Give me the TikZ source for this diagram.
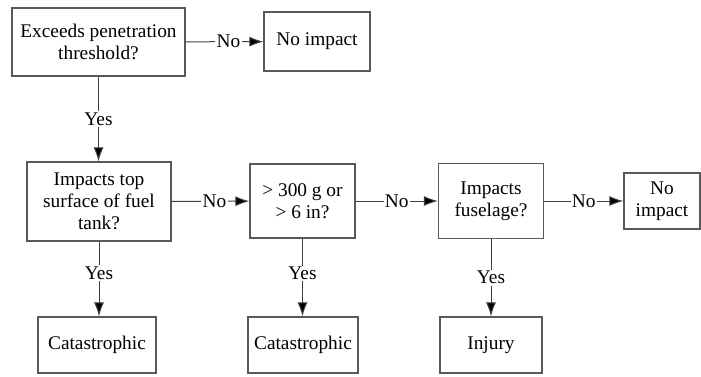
\documentclass[tikz,border=0pt]{standalone}
\usepackage{fontspec}
\setmainfont{Liberation Serif}
\newfontfamily\flowfont{Liberation Serif}
\usetikzlibrary{arrows.meta}

\begin{document}
\begin{tikzpicture}[x=0.75pt,y=-0.75pt,
  box/.style={draw=black!65, line width=0.9pt, align=center, inner sep=0pt,
    font=\flowfont\fontsize{14.5}{16.5}\selectfont},
  lbl/.style={fill=white, inner sep=1pt, font=\flowfont\fontsize{14.5}{16.5}\selectfont},
  >={Latex[length=10.5pt,width=7.5pt]}]
\useasboundingbox (0,0) rectangle (701,376);
% first question
\node[box, minimum width=129.75pt, minimum height=51pt] (pen) at (98.5,42)
  {Exceeds penetration\\threshold?};
\node[box, minimum width=79.5pt, minimum height=44.25pt] (noimpa) at (317,41.5)
  {No impact};
% second row
\node[box, minimum width=108pt, minimum height=59.25pt] (tank) at (99,201.5)
  {Impacts top\\surface of fuel\\tank?};
\node[box, minimum width=78.75pt, minimum height=55.5pt] (mass) at (302.5,201)
  {> 300 g or\\> 6 in?};
\node[box, minimum width=78.75pt, minimum height=56.25pt] (fus) at (491,201)
  {Impacts\\fuselage?};
\node[box, minimum width=57pt, minimum height=42pt] (noimpb) at (662,201)
  {No\\impact};
% outcomes
\node[box, minimum width=88.5pt, minimum height=42pt] (cata) at (97,345)
  {Catastrophic};
\node[box, minimum width=82.5pt, minimum height=42pt] (catb) at (303,345)
  {Catastrophic};
\node[box, minimum width=76.5pt, minimum height=42pt] (inj) at (491,345)
  {Injury};
\path[->, draw=black!75, line width=0.75pt]
(pen)  edge node[lbl, pos=0.55] {No} (noimpa)
       edge node[lbl] {Yes} (pen |- tank.north)
(tank) edge node[lbl, pos=0.55] {No} (mass)
       edge node[lbl, pos=0.42] {Yes} (tank |- cata.north)
(mass) edge node[lbl, pos=0.5] {No} (fus)
       edge node[lbl, pos=0.45] {Yes} (mass |- catb.north)
(fus)  edge node[lbl, pos=0.5] {No} (noimpb)
       edge node[lbl, pos=0.5] {Yes} (inj);
\end{tikzpicture}
\end{document}
